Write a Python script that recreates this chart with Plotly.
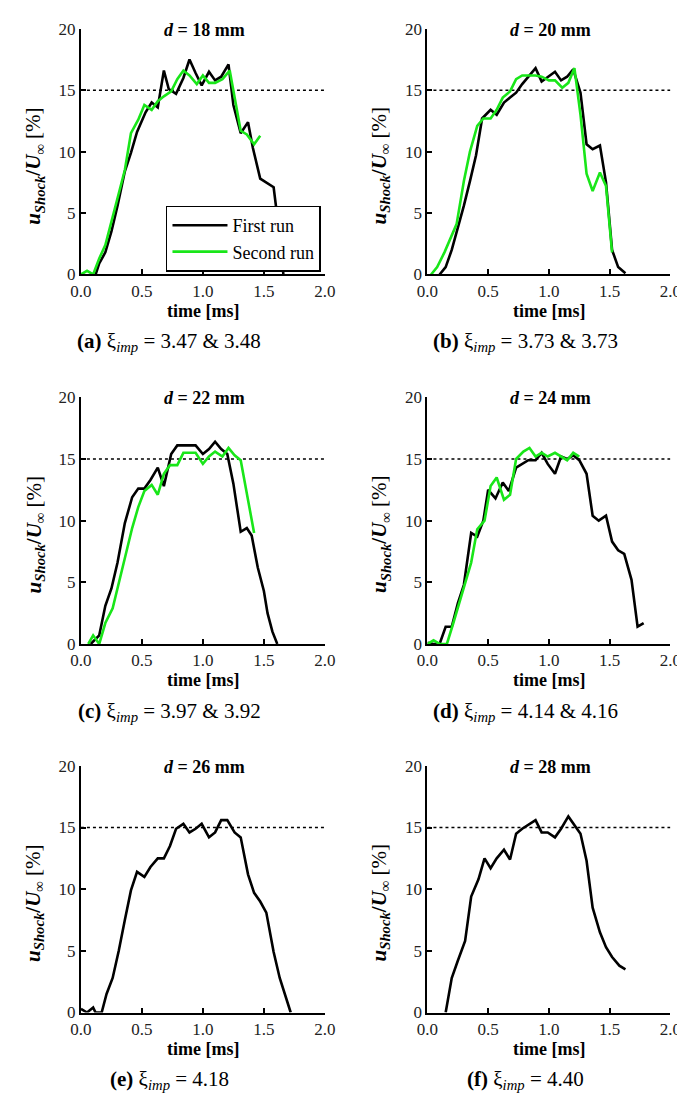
import plotly.graph_objects as go

# ---------------- data ----------------
# (a) d = 18 mm
t18_first = [0.12, 0.15, 0.20, 0.25, 0.30, 0.36, 0.41, 0.46, 0.53, 0.58, 0.63, 0.68, 0.72, 0.78, 0.84, 0.89, 0.94, 0.99, 1.05, 1.10, 1.15, 1.21, 1.25, 1.31, 1.37, 1.41, 1.47, 1.58, 1.62, 1.66]
u18_first = [0.0, 0.9, 1.8, 3.5, 5.6, 8.4, 9.9, 11.6, 13.2, 14.0, 13.6, 16.6, 15.1, 14.7, 16.0, 17.5, 16.4, 15.4, 16.5, 15.8, 16.1, 17.1, 13.8, 11.5, 12.4, 10.3, 7.8, 7.1, 3.9, 0.0]
t18_second = [0.00, 0.05, 0.10, 0.15, 0.20, 0.25, 0.30, 0.36, 0.41, 0.47, 0.52, 0.58, 0.63, 0.68, 0.74, 0.79, 0.84, 0.89, 0.95, 1.00, 1.05, 1.10, 1.16, 1.22, 1.31, 1.36, 1.42, 1.47]
u18_second = [0.0, 0.3, 0.0, 1.3, 2.4, 4.3, 6.0, 8.5, 11.5, 12.6, 13.8, 13.4, 14.1, 14.5, 14.9, 15.9, 16.6, 16.2, 15.5, 16.2, 15.6, 15.6, 15.9, 16.6, 11.7, 11.4, 10.6, 11.3]

# (b) d = 20 mm
t20_first = [0.10, 0.15, 0.20, 0.25, 0.30, 0.35, 0.40, 0.45, 0.52, 0.57, 0.63, 0.68, 0.73, 0.78, 0.84, 0.89, 0.94, 1.00, 1.05, 1.10, 1.15, 1.20, 1.26, 1.31, 1.36, 1.42, 1.47, 1.52, 1.57, 1.63]
u20_first = [0.0, 0.6, 2.0, 3.7, 5.6, 7.6, 9.7, 12.7, 13.4, 13.0, 14.0, 14.4, 14.8, 15.5, 16.2, 16.8, 15.7, 16.1, 16.5, 15.8, 16.1, 16.7, 14.8, 10.6, 10.2, 10.5, 7.5, 2.0, 0.6, 0.1]
t20_second = [0.03, 0.08, 0.14, 0.19, 0.24, 0.30, 0.35, 0.41, 0.46, 0.52, 0.57, 0.62, 0.68, 0.73, 0.78, 0.84, 0.89, 0.94, 1.00, 1.05, 1.11, 1.16, 1.21, 1.26, 1.31, 1.36, 1.42, 1.47, 1.52]
u20_second = [0.0, 0.6, 1.8, 3.0, 4.1, 7.6, 10.0, 12.1, 12.7, 12.7, 13.4, 14.4, 14.9, 15.9, 16.2, 16.2, 16.2, 16.1, 15.8, 15.8, 15.2, 15.6, 16.8, 13.0, 8.2, 6.8, 8.3, 7.2, 1.8]

# (c) d = 22 mm
t22_first = [0.08, 0.15, 0.20, 0.25, 0.30, 0.36, 0.42, 0.47, 0.52, 0.57, 0.63, 0.68, 0.74, 0.79, 0.84, 0.89, 0.94, 1.00, 1.05, 1.10, 1.15, 1.20, 1.25, 1.31, 1.36, 1.40, 1.45, 1.50, 1.53, 1.57, 1.61]
u22_first = [0.0, 0.7, 3.1, 4.5, 6.6, 9.8, 11.9, 12.6, 12.6, 13.3, 14.3, 12.8, 15.4, 16.1, 16.1, 16.1, 16.1, 15.4, 15.8, 16.4, 15.8, 15.4, 13.0, 9.1, 9.4, 8.8, 6.2, 4.3, 2.5, 1.0, 0.0]
t22_second = [0.06, 0.10, 0.15, 0.20, 0.26, 0.31, 0.36, 0.42, 0.47, 0.52, 0.58, 0.63, 0.68, 0.73, 0.79, 0.84, 0.89, 0.94, 1.00, 1.05, 1.10, 1.16, 1.21, 1.26, 1.31, 1.42]
u22_second = [0.0, 0.7, 0.0, 1.7, 2.9, 5.0, 7.0, 9.4, 11.1, 12.4, 12.9, 12.1, 13.8, 14.5, 14.5, 15.5, 15.5, 15.5, 14.6, 15.2, 15.6, 15.2, 15.9, 15.3, 14.9, 9.0]

# (d) d = 24 mm
t24_first = [0.00, 0.05, 0.10, 0.15, 0.20, 0.25, 0.30, 0.36, 0.41, 0.46, 0.50, 0.56, 0.62, 0.67, 0.73, 0.78, 0.83, 0.89, 0.94, 0.99, 1.05, 1.10, 1.15, 1.20, 1.25, 1.31, 1.36, 1.41, 1.47, 1.52, 1.57, 1.62, 1.68, 1.73, 1.78]
u24_first = [0.1, 0.0, 0.0, 1.4, 1.4, 3.3, 4.8, 9.0, 8.7, 10.0, 12.5, 11.8, 13.1, 12.4, 14.3, 14.6, 14.9, 14.9, 15.5, 14.6, 13.8, 15.2, 15.0, 15.3, 14.9, 13.8, 10.4, 10.0, 10.4, 8.3, 7.6, 7.3, 5.2, 1.4, 1.7]
t24_second = [0.00, 0.05, 0.10, 0.16, 0.21, 0.26, 0.31, 0.36, 0.41, 0.47, 0.52, 0.57, 0.63, 0.68, 0.73, 0.79, 0.84, 0.89, 0.94, 0.99, 1.05, 1.10, 1.15, 1.20, 1.25]
u24_second = [0.0, 0.3, 0.0, 0.0, 1.6, 3.3, 4.8, 6.6, 9.3, 10.0, 12.8, 13.5, 11.7, 12.1, 15.0, 15.6, 15.9, 15.2, 15.5, 15.2, 15.5, 15.2, 14.9, 15.5, 15.2]

# (e) d = 26 mm
t26_first = [0.00, 0.05, 0.10, 0.12, 0.17, 0.21, 0.26, 0.31, 0.36, 0.41, 0.46, 0.52, 0.57, 0.63, 0.68, 0.73, 0.78, 0.84, 0.89, 0.94, 0.99, 1.05, 1.10, 1.15, 1.20, 1.26, 1.31, 1.37, 1.42, 1.47, 1.52, 1.58, 1.63, 1.68, 1.72]
u26_first = [0.3, 0.0, 0.4, 0.0, 0.0, 1.5, 2.8, 5.0, 7.5, 9.9, 11.4, 11.0, 11.8, 12.5, 12.5, 13.5, 14.9, 15.3, 14.6, 14.9, 15.3, 14.2, 14.6, 15.6, 15.6, 14.6, 14.2, 11.2, 9.7, 9.0, 8.1, 4.9, 2.8, 1.3, 0.0]

# (f) d = 28 mm
t28_first = [0.15, 0.20, 0.25, 0.31, 0.36, 0.42, 0.47, 0.52, 0.57, 0.63, 0.68, 0.73, 0.78, 0.84, 0.89, 0.94, 0.99, 1.05, 1.10, 1.16, 1.21, 1.26, 1.31, 1.36, 1.42, 1.47, 1.52, 1.58, 1.63]
u28_first = [0.0, 2.8, 4.2, 5.8, 9.4, 10.8, 12.5, 11.7, 12.5, 13.2, 12.4, 14.5, 14.9, 15.3, 15.6, 14.6, 14.6, 14.2, 14.9, 15.9, 15.2, 14.5, 12.3, 8.5, 6.5, 5.3, 4.5, 3.8, 3.5]

THRESHOLD = 15
threshold_t = [0.0, 2.0]

panel_d = ["18", "20", "22", "24", "26", "28"]
panel_letters = ["a", "b", "c", "d", "e", "f"]
panel_xi = ["3.47 &amp; 3.48", "3.73 &amp; 3.73", "3.97 &amp; 3.92", "4.14 &amp; 4.16", "4.18", "4.40"]
first_t = [t18_first, t20_first, t22_first, t24_first, t26_first, t28_first]
first_u = [u18_first, u20_first, u22_first, u24_first, u26_first, u28_first]
second_t = [t18_second, t20_second, t22_second, t24_second, None, None]
second_u = [u18_second, u20_second, u22_second, u24_second, None, None]

x_ticks = [0.0, 0.5, 1.0, 1.5, 2.0]
x_ticklabels = ["0.0", "0.5", "1.0", "1.5", "2.0"]
y_ticks = [0, 5, 10, 15, 20]

# ---------------- layout geometry ----------------
W, H = 685, 1100
col_px = [(64, 316), (422, 673)]
row_px = [(12, 262), (387, 638), (762, 1013)]
caption_x_px = [155, 523]
ylabel_x_px = [16, 373]

GREEN = "#19e619"
SERIF = "Liberation Serif, Times New Roman, serif"

fig = go.Figure()
layout = dict(
    width=W, height=H,
    margin=dict(l=0, r=0, t=0, b=0),
    paper_bgcolor="white", plot_bgcolor="white",
    showlegend=True,
    annotations=[],
)

for i in range(6):
    r, c = divmod(i, 2)
    ax = "" if i == 0 else str(i + 1)
    xa, ya = "x" + ax, "y" + ax
    x0, x1 = col_px[c]
    y0, y1 = row_px[r]
    common = dict(showgrid=False, zeroline=False, showline=True, linecolor="black", linewidth=2,
                  ticks="inside", ticklen=5, tickwidth=1.5, tickcolor="black",
                  tickfont=dict(family=SERIF, size=17, color="#222"), mirror=False)
    layout["xaxis" + ax] = dict(domain=[x0 / W, x1 / W], range=[0, 2.0], anchor=ya,
                                tickvals=x_ticks, ticktext=x_ticklabels, **common)
    layout["yaxis" + ax] = dict(domain=[1 - y1 / H, 1 - y0 / H], range=[0, 20], anchor=xa,
                                tickvals=y_ticks, **common)

    fig.add_trace(go.Scatter(x=threshold_t, y=[THRESHOLD, THRESHOLD], mode="lines",
                             line=dict(color="black", width=1.5, dash="3px,3px"),
                             showlegend=False, hoverinfo="skip", xaxis=xa, yaxis=ya))
    fig.add_trace(go.Scatter(x=first_t[i], y=first_u[i], mode="lines", name="First run",
                             line=dict(color="black", width=2.6),
                             showlegend=(i == 0), xaxis=xa, yaxis=ya))
    if second_t[i] is not None:
        fig.add_trace(go.Scatter(x=second_t[i], y=second_u[i], mode="lines", name="Second run",
                                 line=dict(color=GREEN, width=2.6),
                                 showlegend=(i == 0), xaxis=xa, yaxis=ya))

    cx = (x0 + x1) / 2
    # panel title
    layout["annotations"].append(dict(
        text="<b><i>d</i> = " + panel_d[i] + " mm</b>", xref="paper", yref="paper",
        x=(cx + 2) / W, y=1 - (y0 + 1) / H, xanchor="center", yanchor="middle", showarrow=False,
        font=dict(family=SERIF, size=18, color="black")))
    # x axis title
    layout["annotations"].append(dict(
        text="<b>time [ms]</b>", xref="paper", yref="paper",
        x=cx / W, y=1 - (y1 + 37) / H, xanchor="center", yanchor="middle", showarrow=False,
        font=dict(family=SERIF, size=18, color="black")))
    # y axis title
    layout["annotations"].append(dict(
        text="<b><i>u</i></b><sub><b><i>Shock</i></b></sub><b>/<i>U</i></b><sub><b>∞</b></sub> [%]",
        xref="paper", yref="paper", textangle=-90,
        x=ylabel_x_px[c] / W, y=1 - (y0 + 140) / H, xanchor="center", yanchor="middle",
        showarrow=False, font=dict(family=SERIF, size=21, color="black")))
    # caption
    layout["annotations"].append(dict(
        text="<b>(" + panel_letters[i] + ")</b> ξ<sub><i>imp</i></sub> = " + panel_xi[i],
        xref="paper", yref="paper",
        x=caption_x_px[c] / W, y=1 - (y1 + 69) / H, xanchor="center", yanchor="middle",
        showarrow=False, font=dict(family=SERIF, size=21, color="black")))

layout["legend"] = dict(x=312 / W, y=1 - 259 / H, xanchor="right", yanchor="bottom",
                        bgcolor="white", bordercolor="black", borderwidth=1.5,
                        font=dict(family=SERIF, size=18, color="black"),
                        tracegroupgap=2, itemwidth=55)

fig.update_layout(**layout)
fig.write_html("out.html")
